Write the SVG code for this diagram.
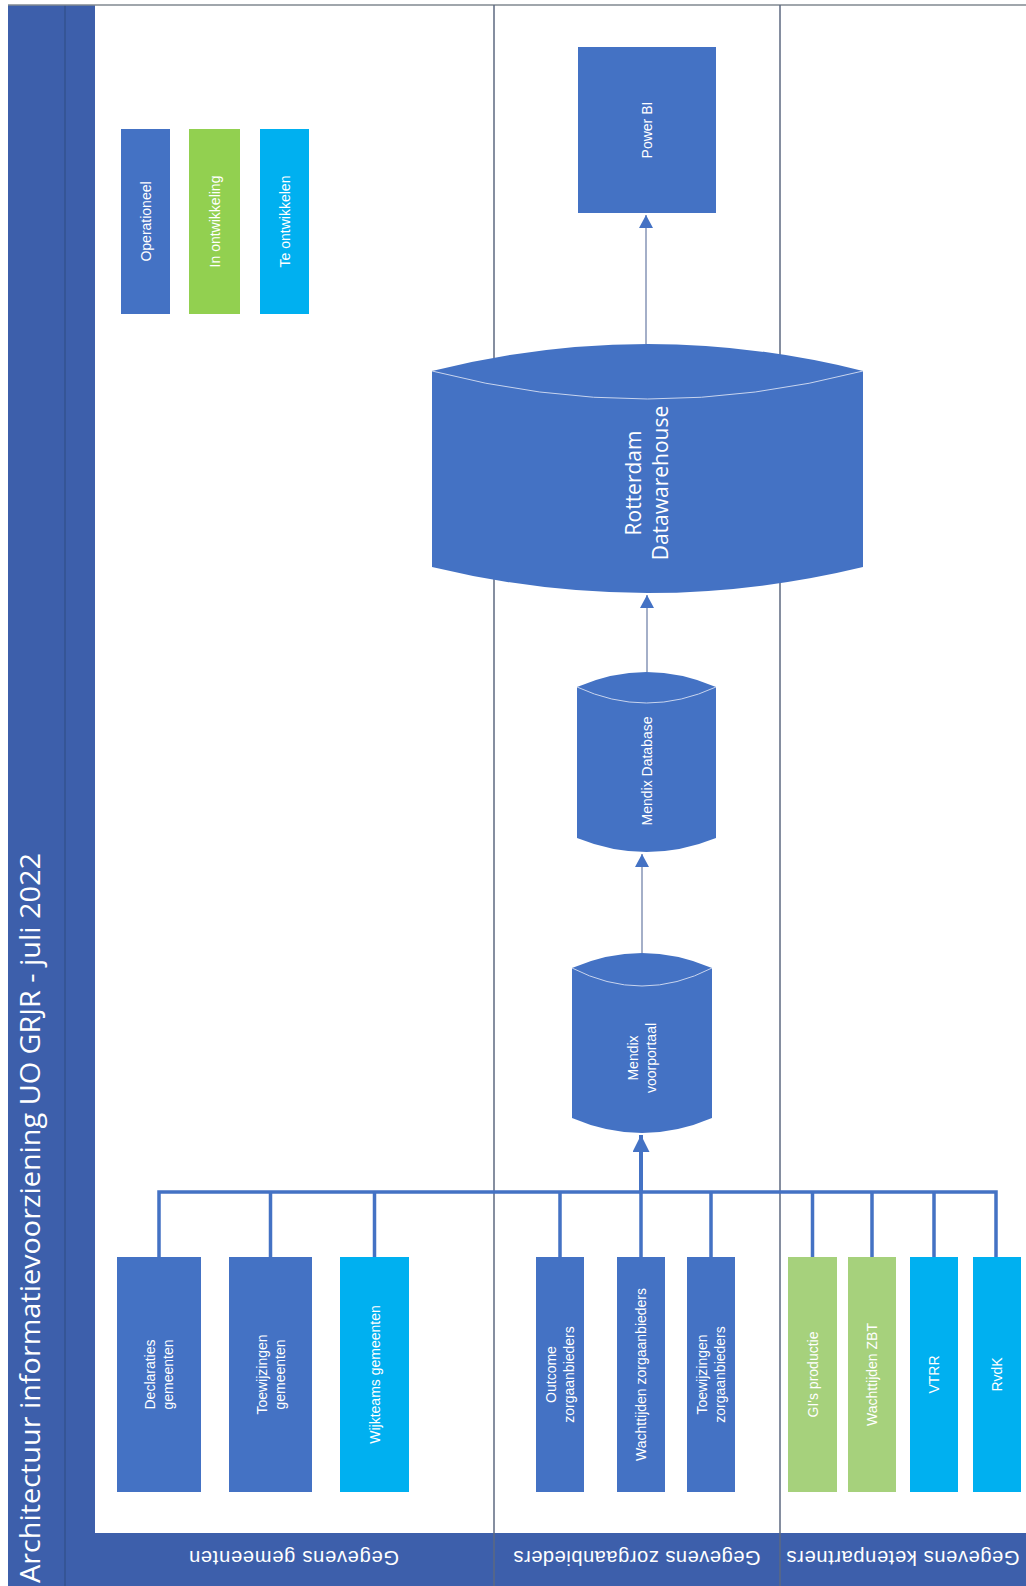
<svg xmlns="http://www.w3.org/2000/svg" width="1026" height="1586" viewBox="0 0 1026 1586">
<defs>
<style>
.band{fill:#3d5fab}
.lane{stroke:#5d6880;stroke-width:1.5;fill:none}
.blue{fill:#4472c4}
.green{fill:#92d050}
.green2{fill:#a6d17c}
.cyan{fill:#00b0f0}
.ntxt{font-family:"Liberation Sans",Arial,sans-serif;font-size:14px;fill:#ffffff;text-anchor:middle}
.big{font-family:"Open Sans","Liberation Sans",sans-serif;font-size:21px;fill:#ffffff;text-anchor:middle}
.lanetxt{font-family:"Liberation Sans",Arial,sans-serif;font-size:20px;fill:#ffffff;text-anchor:middle}
.title{font-family:"Open Sans","Liberation Sans",sans-serif;font-size:28px;fill:#ffffff}
.inner{fill:none;stroke:#c8d4ee;stroke-width:1}
.bus{stroke:#4472c4;stroke-width:3.5;fill:none}
.thin{stroke:#a4afc8;stroke-width:2;fill:none}
</style>
<marker id="ah" markerUnits="userSpaceOnUse" viewBox="0 0 13 14" refX="13" refY="7" markerWidth="13" markerHeight="14" orient="auto">
<path d="M0,0 L13,7 L0,14 Z" fill="#4472c4"/>
</marker>
<marker id="ahBig" markerUnits="userSpaceOnUse" viewBox="0 0 17 17" refX="17" refY="8.5" markerWidth="17" markerHeight="17" orient="auto">
<path d="M0,0 L17,8.5 L0,17 Z" fill="#4472c4"/>
</marker>
</defs>
<rect x="0" y="0" width="1026" height="1586" fill="#ffffff"/>

<g id="frame">
<rect class="band" x="8" y="5" width="87" height="1581"/>
<line x1="65" y1="5" x2="65" y2="1586" stroke="#33528f" stroke-width="1.5"/>
<rect class="band" x="95" y="1533" width="931" height="53"/>
<line x1="8" y1="5" x2="1026" y2="5" stroke="#808890" stroke-width="1.5"/>
<line class="lane" x1="494" y1="5" x2="494" y2="1586"/>
<line class="lane" x1="780" y1="5" x2="780" y2="1586"/>
<text class="title" transform="translate(40,1583) rotate(-90)" textLength="730" lengthAdjust="spacingAndGlyphs">Architectuur informatievoorziening UO GRJR - juli 2022</text>
<text class="lanetxt" transform="translate(294,1558) rotate(180)" y="7" textLength="210" lengthAdjust="spacing">Gegevens gemeenten</text>
<text class="lanetxt" transform="translate(637,1558) rotate(180)" y="7" textLength="247" lengthAdjust="spacing">Gegevens zorgaanbieders</text>
<text class="lanetxt" transform="translate(903,1558) rotate(180)" y="7" textLength="233" lengthAdjust="spacing">Gegevens ketenpartners</text>
</g>

<g id="connectors">
<path class="bus" d="M159,1257 V1192 H996 V1257"/>
<path class="bus" d="M270.5,1192 V1257 M374.5,1192 V1257 M560,1192 V1257 M641,1192 V1257 M711,1192 V1257 M812.5,1192 V1257 M872,1192 V1257 M934,1192 V1257"/>
<line x1="641" y1="1192" x2="641" y2="1135" stroke="#4472c4" stroke-width="4" marker-end="url(#ahBig)"/>
<line class="thin" x1="642" y1="953" x2="642" y2="854" marker-end="url(#ah)"/>
<line class="thin" x1="647" y1="672" x2="647" y2="595" marker-end="url(#ah)"/>
<line class="thin" x1="646" y1="344" x2="646" y2="215" marker-end="url(#ah)"/>
</g>

<g id="legend-operationeel">
<rect class="blue" x="121" y="129" width="49" height="185"/>
<text class="ntxt" transform="translate(145.5,221.5) rotate(-90)" y="5">Operationeel</text>
</g>
<g id="legend-in-ontwikkeling">
<rect class="green" x="189" y="129" width="51" height="185"/>
<text class="ntxt" transform="translate(214.5,221.5) rotate(-90)" y="5">In ontwikkeling</text>
</g>
<g id="legend-te-ontwikkelen">
<rect class="cyan" x="260" y="129" width="49" height="185"/>
<text class="ntxt" transform="translate(284.5,221.5) rotate(-90)" y="5">Te ontwikkelen</text>
</g>

<g id="power-bi">
<rect class="blue" x="578" y="47" width="138" height="166"/>
<text class="ntxt" transform="translate(647,130) rotate(-90)" y="5">Power BI</text>
</g>

<g id="rotterdam-datawarehouse">
<path class="blue" d="M432,371 Q647.5,317 863,371 L863,567 Q647.5,619 432,567 Z"/>
<path class="inner" d="M432,371 Q647.5,427 863,371"/>
<text class="big" transform="translate(647,483) rotate(-90)"><tspan x="0" y="-6">Rotterdam</tspan><tspan x="0" y="21">Datawarehouse</tspan></text>
</g>

<g id="mendix-database">
<path class="blue" d="M577,687 Q646.5,657 716,687 L716,838 Q646.5,866 577,838 Z"/>
<path class="inner" d="M577,687 Q646.5,719 716,687"/>
<text class="ntxt" transform="translate(646.5,771) rotate(-90)" y="5">Mendix Database</text>
</g>

<g id="mendix-voorportaal">
<path class="blue" d="M572,968 Q642,938 712,968 L712,1118 Q642,1148 572,1118 Z"/>
<path class="inner" d="M572,968 Q642,1004 712,968"/>
<text class="ntxt" transform="translate(642,1058) rotate(-90)"><tspan x="0" y="-4">Mendix</tspan><tspan x="0" y="14">voorportaal</tspan></text>
</g>

<g id="declaraties-gemeenten">
<rect class="blue" x="117" y="1257" width="84" height="235"/>
<text class="ntxt" transform="translate(159,1374.5) rotate(-90)"><tspan x="0" y="-4">Declaraties</tspan><tspan x="0" y="14">gemeenten</tspan></text>
</g>
<g id="toewijzingen-gemeenten">
<rect class="blue" x="229" y="1257" width="83" height="235"/>
<text class="ntxt" transform="translate(270.5,1374.5) rotate(-90)"><tspan x="0" y="-4">Toewijzingen</tspan><tspan x="0" y="14">gemeenten</tspan></text>
</g>
<g id="wijkteams-gemeenten">
<rect class="cyan" x="340" y="1257" width="69" height="235"/>
<text class="ntxt" transform="translate(374.5,1374.5) rotate(-90)" y="5">Wijkteams gemeenten</text>
</g>

<g id="outcome-zorgaanbieders">
<rect class="blue" x="536" y="1257" width="48" height="235"/>
<text class="ntxt" transform="translate(560,1374.5) rotate(-90)"><tspan x="0" y="-4">Outcome</tspan><tspan x="0" y="14">zorgaanbieders</tspan></text>
</g>
<g id="wachttijden-zorgaanbieders">
<rect class="blue" x="617" y="1257" width="48" height="235"/>
<text class="ntxt" transform="translate(641,1374.5) rotate(-90)" y="5">Wachttijden zorgaanbieders</text>
</g>
<g id="toewijzingen-zorgaanbieders">
<rect class="blue" x="687" y="1257" width="48" height="235"/>
<text class="ntxt" transform="translate(711,1374.5) rotate(-90)"><tspan x="0" y="-4">Toewijzingen</tspan><tspan x="0" y="14">zorgaanbieders</tspan></text>
</g>

<g id="gis-productie">
<rect class="green2" x="788" y="1257" width="49" height="235"/>
<text class="ntxt" transform="translate(812.5,1374.5) rotate(-90)" y="5">GI's productie</text>
</g>
<g id="wachttijden-zbt">
<rect class="green2" x="848" y="1257" width="48" height="235"/>
<text class="ntxt" transform="translate(872,1374.5) rotate(-90)" y="5">Wachttijden ZBT</text>
</g>
<g id="vtrr">
<rect class="cyan" x="910" y="1257" width="48" height="235"/>
<text class="ntxt" transform="translate(934,1374.5) rotate(-90)" y="5">VTRR</text>
</g>
<g id="rvdk">
<rect class="cyan" x="973" y="1257" width="48" height="235"/>
<text class="ntxt" transform="translate(997,1374.5) rotate(-90)" y="5">RvdK</text>
</g>
</svg>
